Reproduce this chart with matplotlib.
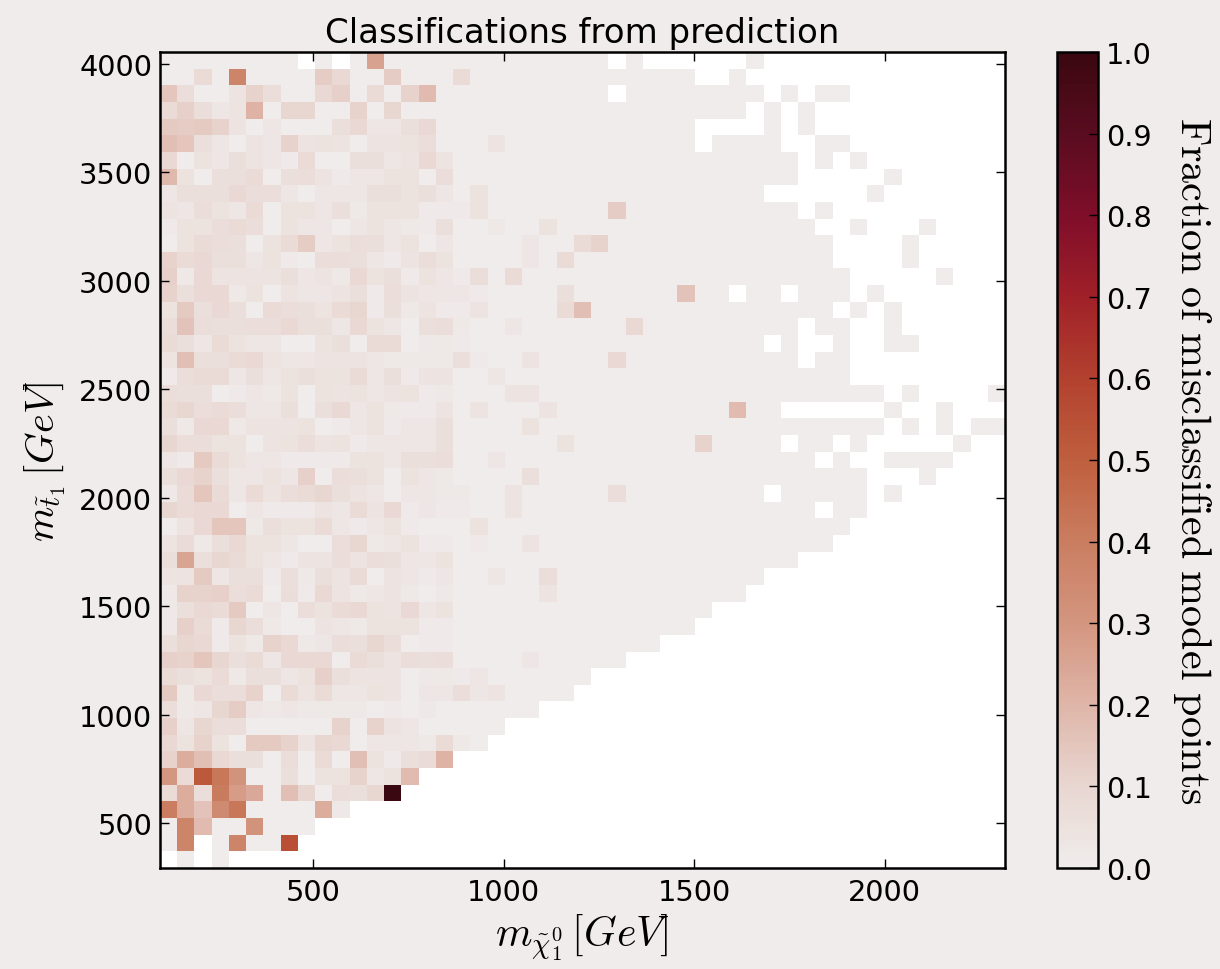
# -*- coding: utf-8 -*-
"""Misclassified fraction per mass bin"""

import numpy as np
import matplotlib
matplotlib.use('Agg')
import matplotlib.pyplot as plt
from matplotlib.colors import LinearSegmentedColormap

plt.rcParams['mathtext.fontset'] = 'cm'

x_min, x_max = 98, 2316
y_min, y_max = 293, 4055
n_bins = 49

# fraction in percent, dense part of the plane: columns 0-18, row 0 is the top row
left_percent = [
    [0, 0, 0, 0, 0, 0, 0, 0, 0, 0, 0, 0, 26, 0, 0, 0, 0, 0, 0],
    [0, 0, 8, 0, 37, 0, 0, 0, 0, 13, 9, 0, 0, 13, 0, 0, 0, 8, 0],
    [15, 7, 0, 0, 4, 11, 7, 0, 0, 9, 12, 0, 8, 0, 11, 18, 0, 0, 0],
    [8, 12, 7, 3, 4, 21, 0, 10, 10, 0, 0, 11, 0, 10, 0, 0, 0, 0, 0],
    [14, 13, 14, 11, 4, 0, 3, 0, 0, 0, 6, 9, 3, 3, 6, 9, 0, 0, 0],
    [17, 15, 6, 3, 0, 4, 3, 11, 4, 5, 4, 0, 4, 4, 5, 7, 0, 0, 0],
    [9, 0, 5, 3, 6, 4, 3, 1, 8, 0, 0, 6, 6, 3, 4, 9, 4, 0, 0],
    [19, 5, 0, 6, 6, 8, 0, 6, 7, 4, 1, 3, 3, 5, 5, 0, 7, 0, 0],
    [3, 6, 6, 6, 9, 7, 7, 3, 0, 3, 3, 3, 6, 6, 5, 6, 3, 0, 5],
    [4, 3, 7, 5, 3, 8, 0, 5, 5, 3, 6, 2, 5, 5, 5, 1, 1, 1, 5],
    [1, 5, 5, 7, 8, 7, 0, 5, 3, 3, 0, 3, 5, 3, 2, 1, 6, 0, 0],
    [0, 5, 8, 7, 6, 0, 5, 8, 13, 3, 5, 7, 6, 3, 5, 0, 3, 0, 0],
    [11, 8, 9, 6, 6, 3, 5, 1, 0, 7, 7, 6, 3, 1, 4, 7, 5, 0, 0],
    [12, 2, 9, 4, 4, 4, 4, 6, 3, 4, 2, 9, 5, 6, 1, 5, 3, 1, 7],
    [11, 6, 9, 9, 2, 5, 0, 4, 3, 3, 4, 6, 1, 7, 4, 3, 3, 3, 1],
    [5, 14, 6, 9, 6, 0, 8, 7, 6, 4, 8, 10, 1, 6, 2, 4, 1, 1, 4],
    [7, 16, 7, 6, 6, 7, 7, 9, 6, 6, 3, 9, 5, 3, 0, 6, 7, 2, 0],
    [8, 6, 3, 8, 5, 3, 3, 0, 0, 5, 6, 0, 8, 8, 0, 2, 2, 1, 0],
    [4, 17, 6, 6, 8, 9, 4, 3, 3, 4, 4, 4, 3, 2, 2, 2, 2, 6, 1],
    [1, 7, 8, 8, 3, 6, 3, 5, 6, 5, 5, 8, 3, 6, 1, 4, 4, 0, 0],
    [7, 6, 6, 0, 1, 3, 2, 5, 0, 5, 4, 5, 3, 4, 5, 1, 2, 0, 0],
    [8, 10, 7, 8, 7, 3, 3, 6, 0, 6, 9, 3, 5, 2, 1, 1, 4, 0, 4],
    [6, 2, 9, 9, 2, 4, 4, 4, 5, 0, 1, 3, 5, 1, 3, 3, 6, 0, 0],
    [10, 7, 7, 5, 5, 0, 4, 5, 7, 4, 5, 1, 3, 3, 3, 3, 6, 0, 0],
    [3, 1, 14, 8, 5, 3, 3, 1, 1, 1, 1, 5, 5, 3, 6, 6, 7, 0, 0],
    [6, 9, 11, 6, 3, 3, 5, 3, 12, 0, 7, 6, 5, 0, 5, 3, 2, 0, 0],
    [2, 8, 15, 8, 3, 8, 4, 7, 8, 10, 6, 4, 3, 0, 3, 3, 2, 2, 0],
    [10, 8, 9, 9, 0, 3, 1, 1, 1, 4, 3, 8, 4, 9, 1, 3, 1, 1, 0],
    [0, 4, 9, 15, 15, 2, 6, 5, 5, 8, 3, 1, 3, 5, 1, 0, 0, 0, 5],
    [4, 8, 2, 6, 9, 5, 5, 3, 0, 0, 7, 10, 2, 3, 5, 1, 1, 0, 1],
    [6, 25, 6, 10, 8, 5, 3, 1, 4, 4, 7, 4, 7, 6, 3, 3, 5, 0, 0],
    [4, 4, 14, 3, 6, 6, 1, 6, 2, 6, 4, 8, 0, 4, 3, 1, 3, 0, 0],
    [2, 11, 11, 12, 7, 8, 0, 7, 1, 9, 4, 2, 3, 4, 2, 0, 2, 0, 0],
    [2, 6, 9, 8, 14, 0, 3, 0, 7, 5, 8, 9, 5, 4, 9, 3, 5, 0, 0],
    [2, 12, 8, 1, 10, 7, 2, 0, 0, 4, 3, 2, 5, 5, 5, 1, 1, 0, 0],
    [6, 10, 9, 1, 5, 2, 11, 9, 2, 3, 7, 6, 10, 7, 0, 1, 1, 0, 0],
    [12, 11, 15, 10, 6, 8, 3, 9, 9, 9, 0, 8, 6, 4, 7, 6, 7, 0, 0],
    [8, 6, 5, 8, 2, 6, 6, 3, 5, 12, 6, 4, 4, 4, 0, 2, 2, 1, 3],
    [14, 2, 9, 7, 7, 11, 0, 8, 4, 8, 3, 3, 5, 4, 0, 3, 3, 7, 3],
    [7, 2, 3, 10, 13, 3, 2, 3, 2, 2, 2, 2, 0, 1, 0, 2, 0, 0, 0],
    [12, 3, 10, 7, 7, 0, 0, 0, 0, 0, 11, 0, 11, 4, 3, 0, 0, 0, 0],
    [9, 5, 11, 5, 0, 14, 14, 11, 4, 10, 9, 0, 3, 3, 3, 2, 8, 2, 0],
    [11, 23, 17, 9, 6, 6, 0, 7, 0, 8, 0, 17, 5, 1, 6, 8, 21, 0, 0],
    [30, 8, 52, 42, 31, 0, 0, 6, 0, 5, 5, 11, 3, 5, 18, 0, 0, 0, 0],
    [8, 23, 7, 41, 28, 24, 0, 17, 10, 0, 7, 6, 10, 100, 0, 0, 0, 0, 0],
    [40, 23, 16, 34, 42, 0, 0, 0, 0, 23, 2, 0, 0, 0, 0, 0, 0, 0, 0],
    [0, 37, 18, 0, 0, 31, 0, 0, 0, 0, 0, 0, 0, 0, 0, 0, 0, 0, 0],
    [0, 37, 0, 0, 37, 0, 0, 55, 0, 0, 0, 0, 0, 0, 0, 0, 0, 0, 0],
    [0, 0, 0, 0, 0, 0, 0, 0, 0, 0, 0, 0, 0, 0, 0, 0, 0, 0, 0],
]

# last filled column of the connected part of each row
row_end = [27, 30, 34, 33, 30, 30, 36, 36, 34, 36, 37, 38, 38, 39, 39, 38, 36,
           34, 36, 39, 41, 35, 41, 35, 37, 40, 34, 37, 39, 38, 36, 34, 33, 31,
           30, 28, 26, 24, 23, 21, 19, 18, 16, 14, 13, 10, 8, 7, 3]

# empty bins inside the filled part (row, column)
empty_bins = [(0, 8), (0, 10), (0, 26), (2, 26), (14, 33), (14, 36),
              (47, 2), (48, 0), (48, 2)]

# filled bins cut off from the rest on the right (row, column)
island_bins = [(0, 34), (1, 33), (2, 36), (2, 38), (2, 39), (3, 35), (3, 37),
               (4, 35), (4, 37), (5, 32), (5, 33), (5, 34), (5, 35), (5, 38),
               (5, 39), (6, 38), (6, 40), (7, 42), (8, 41), (9, 38), (10, 40),
               (10, 44), (11, 43), (12, 43), (13, 45), (14, 41), (15, 40),
               (15, 42), (16, 38), (16, 39), (16, 42), (17, 36), (17, 39),
               (17, 42), (17, 43), (18, 38), (18, 39), (20, 43), (20, 48),
               (21, 42), (21, 45), (22, 43), (22, 45), (22, 47), (22, 48),
               (23, 37), (23, 38), (23, 40), (23, 46), (24, 39), (24, 42),
               (24, 43), (24, 44), (24, 45), (25, 44), (26, 36), (26, 37),
               (26, 38), (26, 39), (26, 40), (26, 42), (27, 39), (27, 40)]

# non zero bins right of column 18 (row, column, percent)
right_percent = [(5, 19, 4), (9, 26, 13), (10, 19, 2), (10, 22, 5),
                 (11, 21, 3), (11, 24, 8), (11, 25, 11), (12, 21, 3), (12, 23, 8),
                 (13, 20, 8), (14, 23, 6), (14, 30, 16), (15, 23, 8), (15, 24, 17),
                 (16, 20, 3), (16, 27, 9), (18, 21, 4), (18, 26, 9), (19, 19, 3),
                 (20, 20, 4), (20, 21, 4), (21, 22, 4), (21, 33, 18), (22, 21, 5),
                 (23, 23, 5), (23, 31, 11), (24, 19, 3), (25, 21, 6), (26, 20, 4),
                 (26, 26, 7), (27, 20, 4), (29, 21, 4), (31, 19, 3), (31, 22, 7),
                 (32, 22, 4), (36, 21, 3), (38, 19, 4)]

tick_x = [500, 1000, 1500, 2000]
tick_y = [500, 1000, 1500, 2000, 2500, 3000, 3500, 4000]
tick_cb = [0.0, 0.1, 0.2, 0.3, 0.4, 0.5, 0.6, 0.7, 0.8, 0.9, 1.0]

cb_stops = [0.0, 0.1, 0.2, 0.3, 0.4, 0.5, 0.6, 0.7, 0.8, 0.9, 1.0]
cb_colors = ['#f0eceb', '#e8d6d0', '#dfb5a8', '#d3957f', '#ca7d60', '#bf5f3e',
             '#b2412e', '#a02028', '#7f0e2a', '#5a0c20', '#3a0810']

frac = np.zeros((n_bins, n_bins))
frac[:, :19] = np.array(left_percent) / 100.0
for r, c, v in right_percent:
    frac[r, c] = v / 100.0

filled = np.zeros((n_bins, n_bins), dtype=bool)
for r, end in enumerate(row_end):
    filled[r, :end + 1] = True
for r, c in island_bins:
    filled[r, c] = True
for r, c in empty_bins:
    filled[r, c] = False
frac = np.ma.masked_where(~filled, frac)

xedges = np.linspace(x_min, x_max, n_bins + 1)
yedges = np.linspace(y_max, y_min, n_bins + 1)

cmap = LinearSegmentedColormap.from_list('misclass', list(zip(cb_stops, cb_colors)))
cmap.set_bad('white')

fig = plt.figure(figsize=(12.2, 9.7), dpi=100, facecolor='#f1ecec')
ax = fig.add_axes([160 / 1220, 1 - 869 / 970, 845 / 1220, 816 / 970])
cax = fig.add_axes([1057 / 1220, 1 - 869 / 970, 41 / 1220, 816 / 970])

mesh = ax.pcolormesh(xedges, yedges, frac, cmap=cmap, vmin=0, vmax=1, linewidth=0)
ax.set_xlim(x_min, x_max)
ax.set_ylim(y_min, y_max)
ax.set_xticks(tick_x)
ax.set_yticks(tick_y)
ax.tick_params(direction='in', top=True, right=True, length=6.5, width=1,
               labelsize=20.7, pad=5.5)
ax.tick_params(axis='x', pad=7)
ax.set_title('Classifications from prediction', fontsize=24.5, pad=7)
ax.set_xlabel(r'$m_{\tilde{\chi}_1^0}\,[GeV]$', fontsize=30, labelpad=4)
ax.set_ylabel(r'$m_{\tilde{t}_1}\,[GeV]$', fontsize=29, labelpad=8)
for s in ax.spines.values():
    s.set_linewidth(1.8)

cb = fig.colorbar(mesh, cax=cax)
cb.set_ticks(tick_cb)
cb.ax.tick_params(direction='in', length=6.5, width=1, labelsize=20.7, pad=5.5)
cb.outline.set_linewidth(1.8)
cb.set_label(r'$\mathrm{Fraction\ of\ misclassified\ model\ points}$',
             fontsize=30.3, rotation=270, labelpad=44)

plt.savefig('out.png', dpi=100, facecolor=fig.get_facecolor())
plt.close()
